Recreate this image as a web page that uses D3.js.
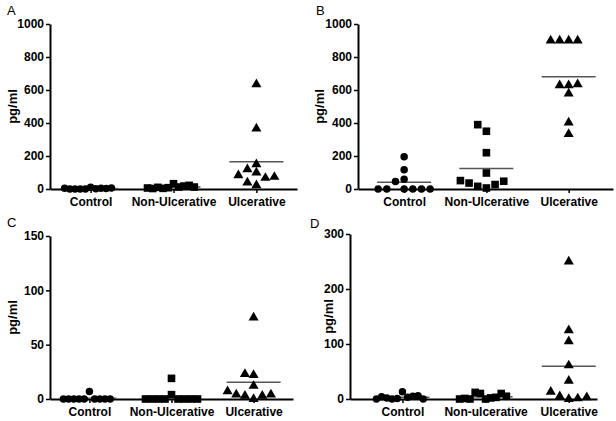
<!DOCTYPE html>
<html>
<head>
<meta charset="utf-8">
<script src="https://cdn.jsdelivr.net/npm/d3@7"></script>
<style>
body { margin: 0; background: #fff; }
text { font-family: "Liberation Sans", Arial, sans-serif; }
</style>
</head>
<body>
<div id="chart"></div>
<script>
// group names
var groupsUpper = ["Control", "Non-Ulcerative", "Ulcerative"];
var groupsLower = ["Control", "Non-ulcerative", "Ulcerative"];

// panel A (pg/ml)
var aControl = [10, 0, 2, 0, 5, 0, 3, 0, 6, 4];
var aNonUlc = [32, 8, 12, 4, 18, 10, 22, 3, 12, 6];
var aUlc = [99, 22, 39, 150, 119, 67, 83, 73, 366, 634];
// panel B
var bControl = [195, 117, 59, 45, 0, 0, 0, 0, 0, 0];
var bNonUlc = [6, 16, 27, 36, 47, 51, 97, 220, 350, 390];
var bUlc = [900, 900, 900, 900, 578, 628, 628, 634, 402, 333];
// panel C
var cControl = [7, 0, 0, 0, 0, 0, 0, 0, 0, 0];
var cNonUlc = [19, 4, 0, 0, 0, 0, 0, 0, 0, 0];
var cUlc = [0, 3, 3, 4, 4, 7, 12, 22, 23, 75];
// panel D
var dControl = [13, 1, 3, 0, 5, 2, 6, 4, 0, 0];
var dNonUlc = [0, 10, 2, 12, 3, 0, 10, 1, 5, 0];
var dUlc = [0, 5, 1, 13, 3, 33, 61, 105, 125, 250];

// tick labels
var ticksAB = [0, 200, 400, 600, 800, 1000];
var ticksC = [0, 50, 100, 150];
var ticksD = [0, 100, 200, 300];

var panels = [
  {letter: "A", groups: groupsUpper, series: [aControl, aNonUlc, aUlc], ticks: ticksAB,
   left: 50, top: 24, bottom: 189, right: 297, pad: 0.49, align: 0.5, letterX: 7, letterY: 15, labelX: 13},
  {letter: "B", groups: groupsUpper, series: [bControl, bNonUlc, bUlc], ticks: ticksAB,
   left: 358, top: 24, bottom: 189, right: 613, pad: 0.55, align: 0.51, letterX: 316, letterY: 15, labelX: 320},
  {letter: "C", groups: groupsUpper, series: [cControl, cNonUlc, cUlc], ticks: ticksC,
   left: 50, top: 236, bottom: 399, right: 293, pad: 0.48, align: 0.5, letterX: 7, letterY: 227, labelX: 13},
  {letter: "D", groups: groupsLower, series: [dControl, dNonUlc, dUlc], ticks: ticksD,
   left: 350, top: 234, bottom: 399, right: 597, pad: 0.485, align: 0.65, letterX: 310, letterY: 228, labelX: 329}
];

var symbols = [d3.symbolCircle, d3.symbolSquare, d3.symbolTriangle];
var symbolSizes = [44, 58, 44];

var svg = d3.select("#chart")
  .append("svg")
    .attr("width", 616)
    .attr("height", 421);

// simple beeswarm: spread points sideways when they would overlap
function swarm(vals, y, cw, vh, maxHalf) {
  var placed = [];
  vals.forEach(function(v) {
    var py = y(v), dx = 0;
    for (var i = 0; i < 40; i++) {
      var k = i === 0 ? 0 : (i % 2 ? -Math.ceil(i / 2) : Math.ceil(i / 2));
      dx = k * cw / 2;
      var hit = placed.some(function(p) {
        return Math.abs(p.dx - dx) < cw - 0.01 && Math.abs(p.py - py) < vh;
      });
      if (!hit) break;
    }
    placed.push({v: v, py: py, dx: dx});
  });
  var ext = d3.max(placed, function(p) { return Math.abs(p.dx); });
  if (ext > maxHalf) placed.forEach(function(p) { p.dx *= maxHalf / ext; });
  return placed;
}

panels.forEach(function(pn) {
  var w = pn.right - pn.left,
      h = pn.bottom - pn.top;
  var g = svg.append("g")
    .attr("transform", "translate(" + pn.left + "," + pn.top + ")");

  var y = d3.scaleLinear()
    .domain([0, d3.max(pn.ticks)])
    .range([h, 0]);
  var x = d3.scalePoint()
    .domain(pn.groups)
    .range([0, w])
    .padding(pn.pad)
    .align(pn.align);

  // Y axis
  var ya = g.append("g")
    .call(d3.axisLeft(y).tickValues(pn.ticks).tickFormat(d3.format("d"))
      .tickSize(4).tickSizeOuter(0).tickPadding(2));
  ya.select(".domain").attr("stroke-width", 2);
  ya.selectAll(".tick line").attr("stroke-width", 1.5);
  ya.selectAll("text")
    .style("font-family", "'Liberation Sans', Arial, sans-serif")
    .style("font-size", "12px")
    .style("font-weight", "bold")
    .attr("fill", "#000");

  // X axis
  var xa = g.append("g")
    .attr("transform", "translate(0," + h + ")")
    .call(d3.axisBottom(x).tickSize(4).tickSizeOuter(0).tickPadding(4));
  xa.select(".domain").attr("stroke-width", 2);
  xa.selectAll(".tick line").attr("stroke-width", 1.5);
  xa.selectAll("text")
    .style("font-family", "'Liberation Sans', Arial, sans-serif")
    .style("font-size", "12px")
    .style("font-weight", "bold")
    .attr("fill", "#000");

  // mean lines
  pn.series.forEach(function(vals, i) {
    var m = d3.mean(vals);
    g.append("line")
      .attr("x1", x(pn.groups[i]) - 27)
      .attr("x2", x(pn.groups[i]) + 27)
      .attr("y1", y(m))
      .attr("y2", y(m))
      .attr("stroke", "#555")
      .attr("stroke-width", 1.5);
  });

  // points
  pn.series.forEach(function(vals, i) {
    var pts = swarm(vals, y, 9, 8, 26);
    g.selectAll(null)
      .data(pts)
      .enter()
      .append("path")
      .attr("d", d3.symbol().type(symbols[i]).size(symbolSizes[i]))
      .attr("transform", function(p) {
        return "translate(" + (x(pn.groups[i]) + p.dx) + "," + p.py + ")";
      })
      .attr("fill", "#000");
  });

  // y label
  svg.append("text")
    .attr("transform", "translate(" + (pn.labelX + 4) + "," + (pn.top + h / 2) + ") rotate(-90)")
    .attr("text-anchor", "middle")
    .style("font-size", "13px")
    .style("font-weight", "bold")
    .text("pg/ml");

  // panel letter
  svg.append("text")
    .attr("x", pn.letterX)
    .attr("y", pn.letterY)
    .style("font-size", "13px")
    .text(pn.letter);
});
</script>
</body>
</html>
